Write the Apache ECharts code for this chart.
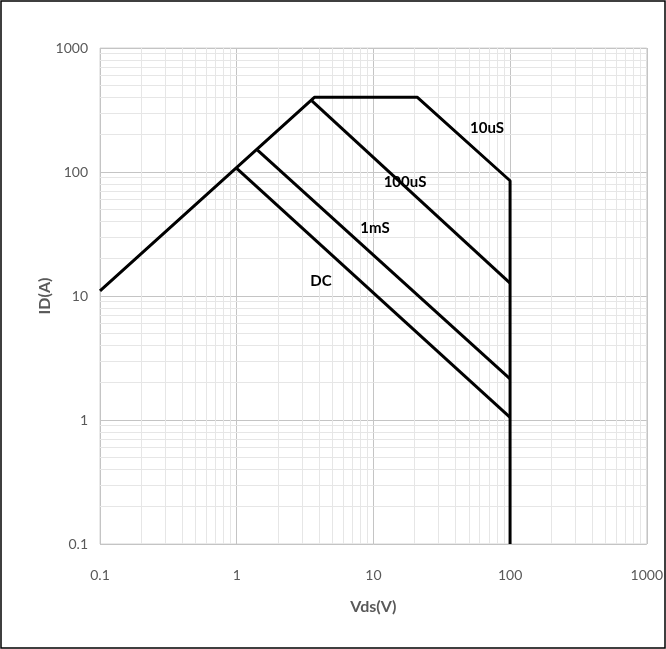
<!DOCTYPE html>
<html><head><meta charset="utf-8">
<script src="https://cdn.jsdelivr.net/npm/echarts@6/dist/echarts.min.js"></script>
<style>html,body{margin:0;padding:0;background:#fff}#c{width:666px;height:649px}</style>
</head><body><div id="c"></div>
<script>
// Data (log-log SOA curves)
const envX = [0.1, 3.7, 21, 100, 100];
const envY = [11, 400, 400, 85, 0.1];
const us100X = [3.55, 100];
const us100Y = [375, 12.7];
const ms1X = [1.42, 100];
const ms1Y = [150, 2.15];
const dcX = [1, 100];
const dcY = [107, 1.05];
const curveLabels = ['10uS', '100uS', '1mS', 'DC'];
const xTicks = [0.1, 1, 10, 100, 1000];
const yTicks = [0.1, 1, 10, 100, 1000];

const zip = (xs, ys) => xs.map((x, i) => [x, ys[i]]);
const minors = [];
for (let k = -1; k <= 2; k++) for (let m = 2; m <= 9; m++) minors.push(+(m * Math.pow(10, k)).toPrecision(3));

const font = 'Lato, "Liberation Sans", sans-serif';
const lineSeries = (d) => ({type: 'line', data: d, symbol: 'none', lineStyle: {color: '#000', width: 3}, z: 5, animation: false});
const fmt = v => { const r = +v.toPrecision(3); return String(r); };
const lbl = (t, x, y) => ({type: 'text', x: x, y: y, z: 50,
  style: {text: t, font: 'bold 15px ' + font, fill: '#000', textAlign: 'center', textVerticalAlign: 'middle'}});

const chart = echarts.init(document.getElementById('c'), null, {renderer: 'canvas'});
chart.setOption({
  animation: false,
  grid: {left: 100, right: 18, top: 48, bottom: 105, show: true, borderColor: '#d4d4d4', borderWidth: 1},
  xAxis: {
    type: 'log', logBase: 10, min: 0.1, max: 1000,
    name: 'Vds(V)', nameLocation: 'middle', nameGap: 55,
    nameTextStyle: {fontFamily: font, fontWeight: 'bold', fontSize: 16, color: '#595959'},
    axisLine: {show: false}, axisTick: {show: false},
    axisLabel: {fontFamily: font, fontSize: 14, color: '#595959', margin: 24, formatter: fmt},
    splitLine: {show: true, lineStyle: {color: '#c4c4c4', width: 1}}
  },
  yAxis: {
    type: 'log', logBase: 10, min: 0.1, max: 1000,
    name: 'ID(A)', nameLocation: 'middle', nameGap: 47, nameRotate: 90, nameMoveOverlap: false,
    nameTextStyle: {fontFamily: font, fontWeight: 'bold', fontSize: 16, color: '#595959'},
    axisLine: {show: false}, axisTick: {show: false},
    axisLabel: {fontFamily: font, fontSize: 14, color: '#595959', margin: 12, formatter: fmt},
    splitLine: {show: true, lineStyle: {color: '#c4c4c4', width: 1}}
  },
  graphic: [
    {type: 'rect', shape: {x: 1, y: 1, width: 664, height: 647}, style: {fill: 'none', stroke: '#000', lineWidth: 1.5}, z: 100},
    lbl(curveLabels[0], 487, 128),
    lbl(curveLabels[1], 405, 182),
    lbl(curveLabels[2], 375, 228),
    lbl(curveLabels[3], 321, 281)
  ],
  series: [
    {type: 'line', data: [], z: 1, silent: true,
     markLine: {silent: true, symbol: ['none', 'none'], label: {show: false}, animation: false,
       lineStyle: {color: '#e6e6e6', width: 1, type: 'solid'},
       data: minors.map(v => ({xAxis: v})).concat(minors.map(v => ({yAxis: v})))}},
    lineSeries(zip(envX, envY)),
    lineSeries(zip(us100X, us100Y)),
    lineSeries(zip(ms1X, ms1Y)),
    lineSeries(zip(dcX, dcY))
  ]
});
</script></body></html>
